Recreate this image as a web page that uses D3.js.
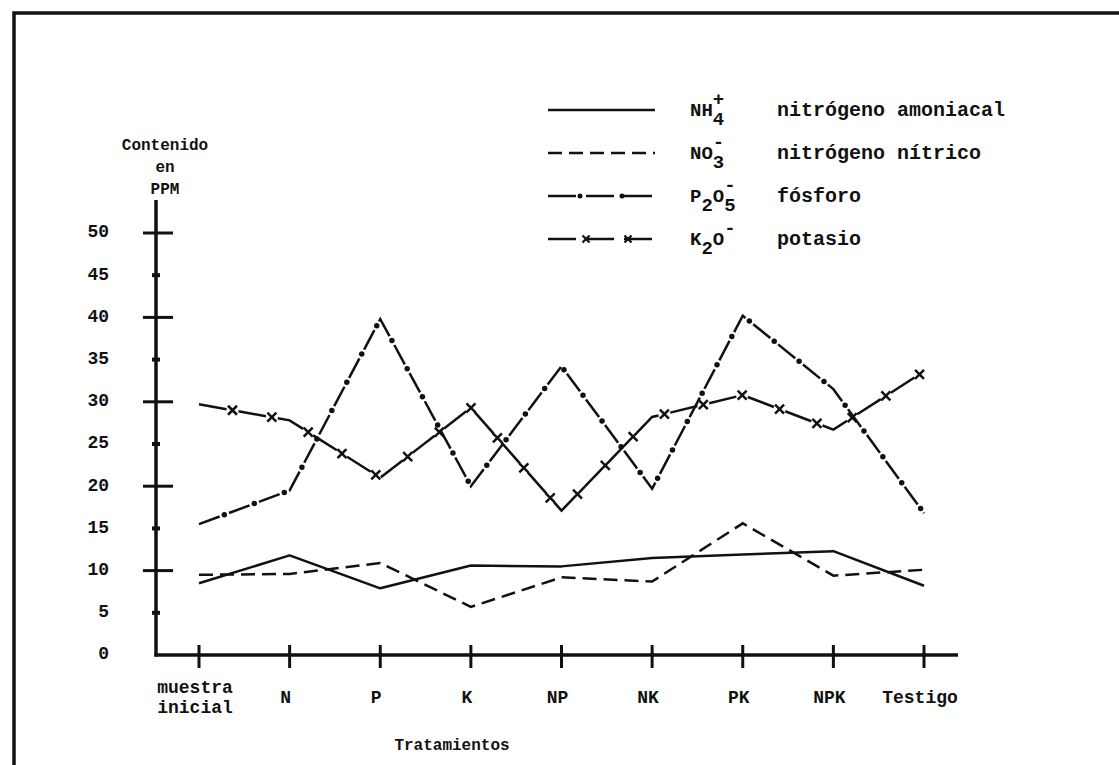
<!DOCTYPE html>
<html>
<head>
<meta charset="utf-8">
<script src="https://cdn.jsdelivr.net/npm/d3@7/dist/d3.min.js"></script>
<style>
  html, body { margin: 0; padding: 0; background: #fff; }
  svg text { font-family: "Liberation Mono", "DejaVu Sans Mono", monospace; font-weight: bold; fill: #111; }
</style>
</head>
<body>
<div id="chart"></div>
<script>
const categories = ["muestra inicial", "N", "P", "K", "NP", "NK", "PK", "NPK", "Testigo"];
const nh4 = [8.5, 11.8, 7.9, 10.6, 10.5, 11.5, 11.9, 12.3, 8.2];
const no3 = [9.5, 9.6, 10.9, 5.7, 9.2, 8.7, 15.6, 9.4, 10.1];
const p2o5 = [15.5, 19.5, 39.8, 20.0, 34.2, 19.7, 40.2, 31.5, 16.8];
const k2o = [29.7, 27.8, 21.0, 29.3, 17.1, 28.2, 30.8, 26.7, 33.6];
const yTicks = [0, 5, 10, 15, 20, 25, 30, 35, 40, 45, 50];
const yTitle = ["Contenido", "en", "PPM"];
const xTitle = "Tratamientos";

// legend: formula parts as [text, kind] (0 base, 1 subscript, -1 superscript)
const legendFormulas = [
    [["NH", 0], ["4", 1], ["+", -1]],
    [["NO", 0], ["3", 1], ["-", -1]],
    [["P", 0], ["2", 1], ["O", 0], ["5", 1], ["-", -1]],
    [["K", 0], ["2", 1], ["O", 0], ["-", -1]]
];
const legendNames = ["nitrógeno amoniacal", "nitrógeno nítrico", "fósforo", "potasio"];

const width = 1119;
const height = 765;
const ink = "#111";

const svg = d3.select("#chart").append("svg")
    .attr("width", width)
    .attr("height", height);

// page frame (left and top edges only, like the scan)
svg.append("path")
    .attr("d", "M14,765 L14,13 L1119,13")
    .attr("fill", "none")
    .attr("stroke", ink)
    .attr("stroke-width", 3.5);

const x = d3.scalePoint().domain(categories).range([199, 924]);
const y = d3.scaleLinear().domain([0, 50]).range([655, 233]);
const axisX = 156;

// y axis
svg.append("line")
    .attr("x1", axisX).attr("x2", axisX)
    .attr("y1", y(0) + 1.5).attr("y2", 200)
    .attr("stroke", ink).attr("stroke-width", 3.5);

svg.selectAll(".ytick")
    .data(yTicks.filter(d => d > 0))
    .join("line")
    .attr("class", "ytick")
    .attr("x1", d => d % 10 === 0 ? axisX - 13 : axisX - 4)
    .attr("x2", d => d % 10 === 0 ? axisX + 17 : axisX + 4)
    .attr("y1", d => y(d)).attr("y2", d => y(d))
    .attr("stroke", ink)
    .attr("stroke-width", d => d % 10 === 0 ? 3 : 4);

const yAxis = svg.append("g")
    .attr("transform", `translate(${axisX - 47},0)`)
    .call(d3.axisLeft(y).tickValues(yTicks).tickSize(0).tickPadding(0));
yAxis.select(".domain").remove();
yAxis.selectAll("text")
    .attr("font-family", null)
    .style("font-size", "18px")
    .attr("dy", "0.22em");

svg.selectAll(".ytitle")
    .data(yTitle)
    .join("text")
    .attr("class", "ytitle")
    .attr("x", 165)
    .attr("y", (d, i) => 150 + i * 22)
    .attr("text-anchor", "middle")
    .style("font-size", "16px")
    .text(d => d);

// x axis
svg.append("line")
    .attr("x1", axisX - 1.5).attr("x2", 958)
    .attr("y1", y(0)).attr("y2", y(0))
    .attr("stroke", ink).attr("stroke-width", 3.5);

svg.selectAll(".xtick")
    .data(categories)
    .join("line")
    .attr("class", "xtick")
    .attr("x1", d => x(d)).attr("x2", d => x(d))
    .attr("y1", y(0) - 10).attr("y2", y(0) + 13)
    .attr("stroke", ink).attr("stroke-width", 3);

const xLabels = svg.selectAll(".xlabel")
    .data(categories)
    .join("text")
    .attr("class", "xlabel")
    .attr("text-anchor", "middle")
    .style("font-size", "18px");
xLabels.each(function (d) {
    const words = d.split(" ");
    const t = d3.select(this);
    words.forEach((w, i) => {
        t.append("tspan")
            .attr("x", x(d) - 4)
            .attr("y", words.length > 1 ? 693 + i * 20 : 703)
            .text(w);
    });
});

svg.append("text")
    .attr("x", 452)
    .attr("y", 750)
    .attr("text-anchor", "middle")
    .style("font-size", "16px")
    .text(xTitle);

// series lines
const line = d3.line()
    .x((d, i) => x(categories[i]))
    .y(d => y(d));

svg.append("path")
    .datum(nh4)
    .attr("fill", "none")
    .attr("stroke", ink)
    .attr("stroke-width", 2.5)
    .attr("stroke-linejoin", "round")
    .attr("d", line);

svg.append("path")
    .datum(no3)
    .attr("fill", "none")
    .attr("stroke", ink)
    .attr("stroke-width", 2.5)
    .attr("stroke-dasharray", "14,7")
    .attr("d", line);

// fósforo: dash with a dot in each gap
svg.append("path")
    .datum(p2o5)
    .attr("fill", "none")
    .attr("stroke", ink)
    .attr("stroke-width", 2.5)
    .attr("stroke-dasharray", "22,10")
    .attr("d", line);

svg.append("path")
    .datum(p2o5)
    .attr("fill", "none")
    .attr("stroke", ink)
    .attr("stroke-width", 5.5)
    .attr("stroke-linecap", "round")
    .attr("stroke-dasharray", "0,32")
    .attr("stroke-dashoffset", -27)
    .attr("d", line);

// potasio: dash with an x in each gap
const kPath = svg.append("path")
    .datum(k2o)
    .attr("fill", "none")
    .attr("stroke", ink)
    .attr("stroke-width", 2.5)
    .attr("stroke-dasharray", "28,12")
    .attr("d", line);

const kNode = kPath.node();
const kLen = kNode.getTotalLength();
const kMarks = d3.range(34, kLen, 40).map(l => kNode.getPointAtLength(l));

svg.selectAll(".kmark")
    .data(kMarks)
    .join("path")
    .attr("class", "kmark")
    .attr("transform", d => `translate(${d.x},${d.y})`)
    .attr("d", "M-4.5,-4.5L4.5,4.5M-4.5,4.5L4.5,-4.5")
    .attr("stroke", ink)
    .attr("stroke-width", 2.5);

// legend
const legendY = [110, 153, 196, 239];
const legend = svg.selectAll(".legend")
    .data(legendNames)
    .join("g")
    .attr("class", "legend")
    .attr("transform", (d, i) => `translate(0,${legendY[i]})`);

const sample = [[548, 0], [655, 0]];
const sampleLine = d3.line();

legend.each(function (d, i) {
    const g = d3.select(this);
    const p = g.append("path")
        .attr("d", sampleLine(sample))
        .attr("fill", "none")
        .attr("stroke", ink)
        .attr("stroke-width", 2.5);
    if (i === 1) p.attr("stroke-dasharray", "14,7");
    if (i === 2) {
        p.attr("stroke-dasharray", "28,10");
        g.selectAll(".ldot").data([580, 622]).join("circle")
            .attr("cx", v => v).attr("cy", 0).attr("r", 2.5).attr("fill", ink);
    }
    if (i === 3) {
        p.attr("stroke-dasharray", "28,10");
        g.selectAll(".lx").data([586, 628]).join("path")
            .attr("transform", v => `translate(${v},0)`)
            .attr("d", "M-3.5,-3.5L3.5,3.5M-3.5,3.5L3.5,-3.5")
            .attr("stroke", ink).attr("stroke-width", 2.2);
    }

    // chemical formula with sub/superscripts
    let cx = 690;
    let lastSubX = null;
    legendFormulas[i].forEach(([t, kind]) => {
        const posX = (kind === -1 && lastSubX !== null) ? lastSubX : cx;
        const te = g.append("text")
            .attr("x", posX)
            .attr("y", kind === 1 ? 15 : kind === -1 ? -5 : 6)
            .style("font-size", "19px")
            .text(t);
        const w = te.node().getComputedTextLength();
        if (kind === 1) {
            lastSubX = cx;
            cx += w;
        } else if (kind === -1) {
            cx = Math.max(cx, posX + w);
        } else {
            lastSubX = null;
            cx += w;
        }
    });

    g.append("text")
        .attr("x", 777)
        .attr("y", 6)
        .style("font-size", "20px")
        .text(d);
});
</script>
</body>
</html>
